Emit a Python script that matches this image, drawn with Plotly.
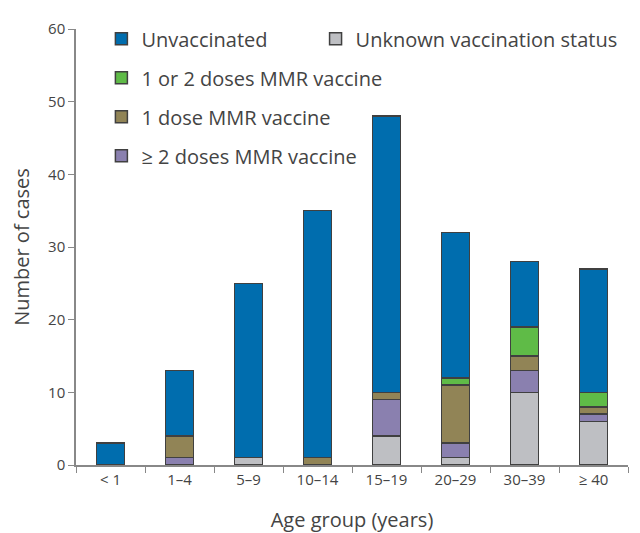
import plotly.graph_objects as go

age_groups = ["< 1", "1–4", "5–9", "10–14", "15–19", "20–29", "30–39", "≥ 40"]
unknown = [0, 0, 1, 0, 4, 1, 10, 6]
two_plus_doses = [0, 1, 0, 0, 5, 2, 3, 1]
one_dose = [0, 3, 0, 1, 1, 8, 2, 1]
one_or_two = [0, 0, 0, 0, 0, 1, 4, 2]
unvaccinated = [3, 9, 24, 34, 38, 20, 9, 17]

line_col = "#404040"
font_fam = "Open Sans, DejaVu Sans, sans-serif"

series = [
    ("Unknown vaccination status", unknown, "#BEBFC3", "legend2", 1),
    ("≥ 2 doses MMR vaccine", two_plus_doses, "#8A80AF", "legend", 4),
    ("1 dose MMR vaccine", one_dose, "#918456", "legend", 3),
    ("1 or 2 doses MMR vaccine", one_or_two, "#5FBB47", "legend", 2),
    ("Unvaccinated", unvaccinated, "#006DAE", "legend", 1),
]

fig = go.Figure()
for name, vals, col, leg, rank in series:
    fig.add_trace(go.Bar(
        x=age_groups, y=[v if v else None for v in vals], name=name,
        marker=dict(color=col, line=dict(color=line_col, width=1.5)),
        legend=leg, legendgroup=name, legendrank=rank,
    ))

fig.update_layout(
    barmode="stack",
    bargap=0.59,
    width=632, height=525,
    margin=dict(l=68, r=12, t=20, b=68),
    paper_bgcolor="white", plot_bgcolor="white",
    font=dict(family=font_fam, size=20, color="#444444"),
    legend=dict(
        x=0.046, y=1.02, xanchor="left", yanchor="top",
        traceorder="grouped", tracegroupgap=10,
        bgcolor="rgba(0,0,0,0)", font=dict(size=20, color="#444444"),
    ),
    legend2=dict(
        x=0.434, y=1.02, xanchor="left", yanchor="top",
        bgcolor="rgba(0,0,0,0)", font=dict(size=20, color="#444444"),
    ),
    xaxis=dict(
        automargin=False,
        showline=True, linecolor="#888888", linewidth=1.5,
        ticks="outside", tickson="boundaries", ticklen=6, tickcolor="#888888",
        tickfont=dict(size=15, color="#444444"),
        title=dict(text="Age group (years)", font=dict(size=20), standoff=26),
    ),
    yaxis=dict(
        automargin=False,
        range=[0, 60], dtick=10, showgrid=False, zeroline=False,
        showline=True, linecolor="#888888", linewidth=1.5,
        ticks="outside", ticklen=6, tickcolor="#888888",
        tickfont=dict(size=15, color="#444444"),
        title=dict(text="Number of cases", font=dict(size=20), standoff=14),
    ),
)

fig.write_html("out.html")
